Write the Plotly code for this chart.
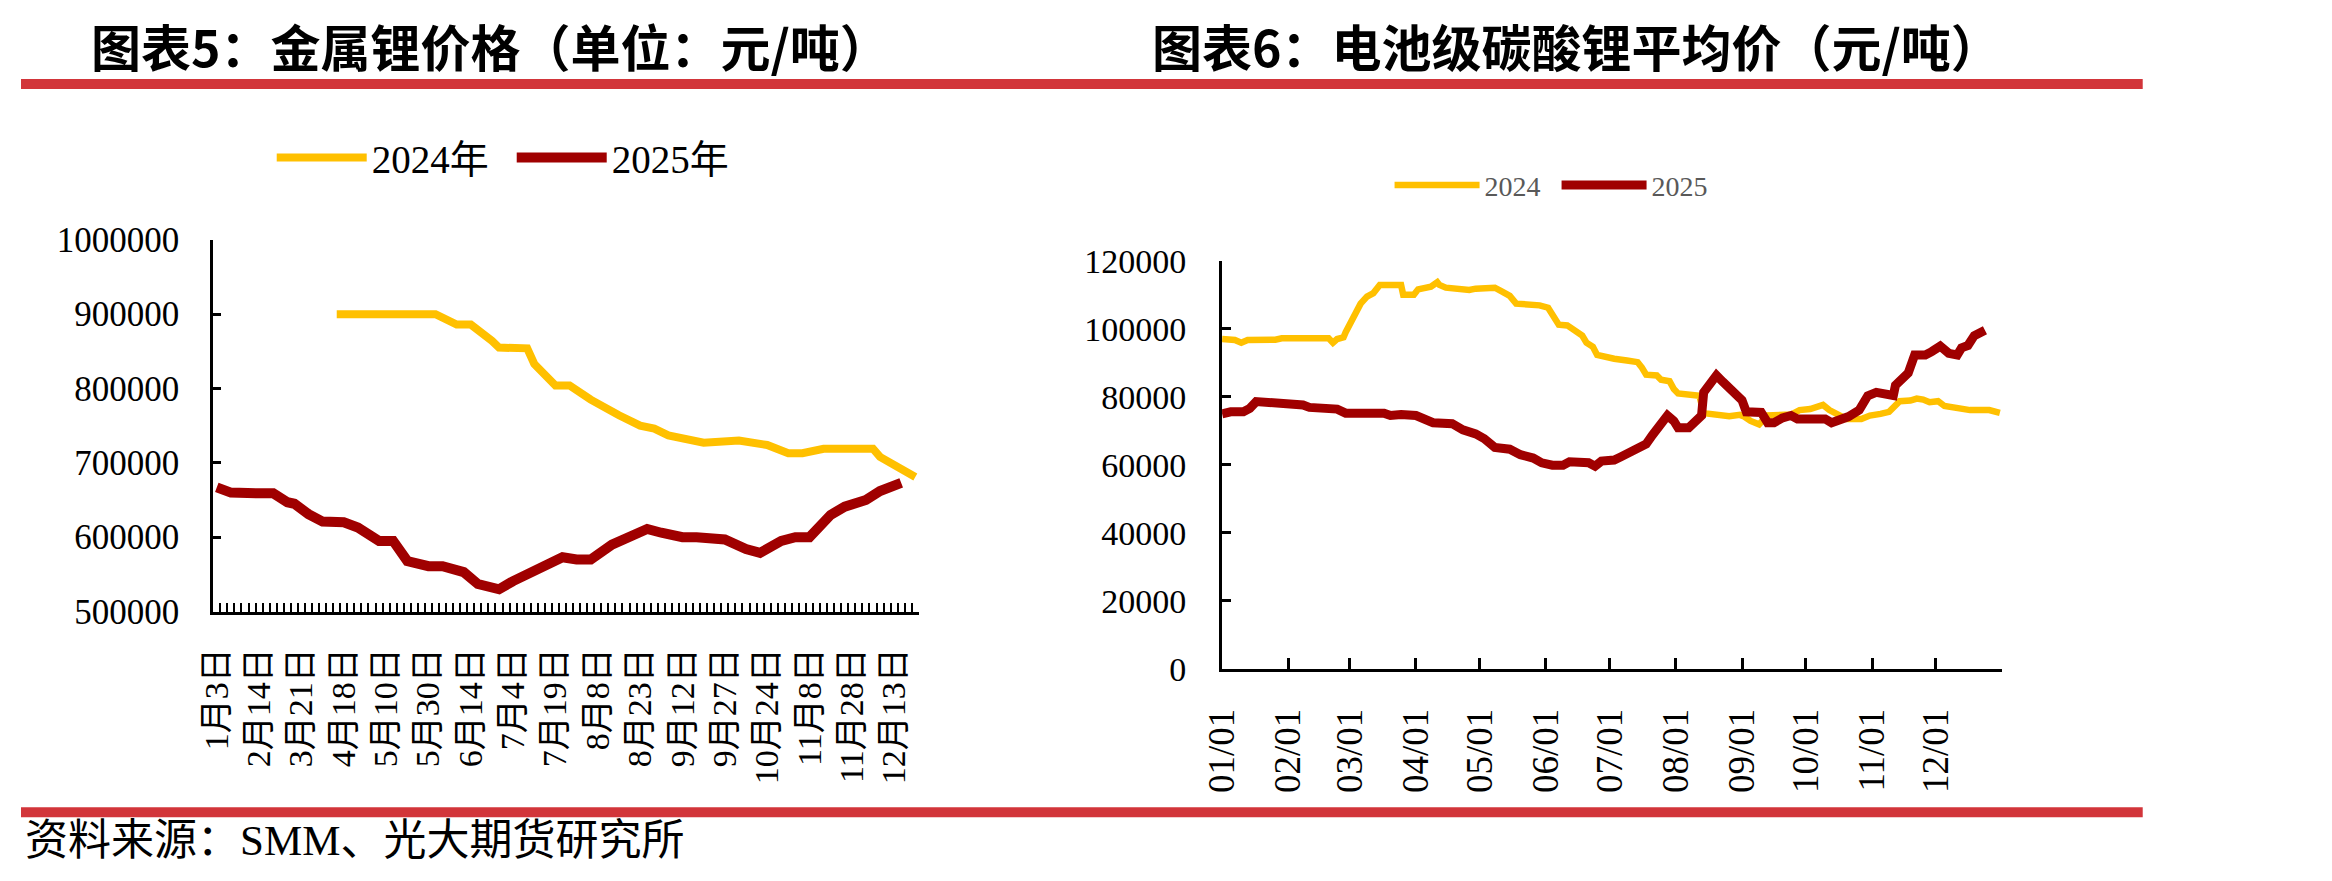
import plotly.graph_objects as go

# ---------------- Chart 5: 金属锂价格（单位：元/吨） ----------------
categories_5 = [
    "1月3日", "1月10日", "1月17日", "1月24日", "1月31日", "2月7日",
    "2月14日", "2月20日", "2月26日", "3月3日", "3月9日", "3月15日",
    "3月21日", "3月26日", "3月30日", "4月4日", "4月9日", "4月13日",
    "4月18日", "4月22日", "4月25日", "4月29日", "5月3日", "5月7日",
    "5月10日", "5月13日", "5月17日", "5月20日", "5月23日", "5月27日",
    "5月30日", "6月2日", "6月4日", "6月6日", "6月10日", "6月12日",
    "6月14日", "6月17日", "6月20日", "6月24日", "6月27日", "7月1日",
    "7月4日", "7月7日", "7月9日", "7月11日", "7月15日", "7月17日",
    "7月19日", "7月22日", "7月25日", "7月29日", "8月1日", "8月5日",
    "8月8日", "8月11日", "8月13日", "8月15日", "8月19日", "8月21日",
    "8月23日", "8月26日", "8月29日", "9月2日", "9月5日", "9月9日",
    "9月12日", "9月15日", "9月17日", "9月19日", "9月23日", "9月25日",
    "9月27日", "9月30日", "10月10日", "10月14日", "10月17日", "10月21日",
    "10月24日", "10月27日", "10月29日", "10月31日", "11月4日", "11月6日",
    "11月8日", "11月11日", "11月14日", "11月18日", "11月21日", "11月25日",
    "11月28日", "12月1日", "12月3日", "12月5日", "12月9日", "12月11日",
    "12月13日", "12月16日", "12月18日", "12月20日",
]
tick_labels_5 = [
    "1月3日", "2月14日", "3月21日", "4月18日", "5月10日", "5月30日",
    "6月14日", "7月4日", "7月19日", "8月8日", "8月23日", "9月12日",
    "9月27日", "10月24日", "11月8日", "11月28日", "12月13日",
]
li_2024_dates = [
    "4月13日", "6月2日", "6月10日", "6月14日", "6月24日", "6月27日",
    "7月9日", "7月11日", "7月19日", "7月25日", "8月5日", "8月11日",
    "8月15日", "8月23日", "8月29日", "9月5日", "9月15日", "9月19日",
    "10月10日", "10月17日", "10月24日", "10月31日", "11月6日", "11月14日",
    "12月5日", "12月9日", "12月16日", "12月20日",
]
li_2024_vals = [
    900000, 900000, 886000, 886000, 864000, 855000,
    854000, 833000, 804000, 804000, 785000, 774000,
    764000, 750000, 746000, 737000, 730000, 727000,
    730000, 728000, 724000, 713000, 713000, 719000,
    719000, 708000, 690000, 681000,
]
li_2025_dates = [
    "1月3日", "1月17日", "2月14日", "2月26日", "3月9日", "3月15日",
    "3月26日", "4月4日", "4月18日", "4月25日", "5月7日", "5月13日",
    "5月20日", "5月30日", "6月4日", "6月12日", "6月17日", "6月27日",
    "7月4日", "7月9日", "7月15日", "7月22日", "7月29日", "8月5日",
    "8月13日", "8月19日", "8月26日", "9月2日", "9月12日", "9月17日",
    "9月23日", "9月27日", "10月14日", "10月21日", "10月29日", "11月4日",
    "11月8日", "11月18日", "11月25日", "12月3日", "12月9日", "12月16日",
]
li_2025_vals = [
    667000, 660000, 659000, 659000, 647000, 645000,
    631000, 621000, 620000, 613000, 595000, 595000,
    568000, 561000, 561000, 553000, 537000, 530000,
    541000, 550000, 559000, 573000, 570000, 570000,
    590000, 599000, 611000, 606000, 600000, 600000,
    597000, 597000, 584000, 579000, 595000, 600000,
    600000, 630000, 641000, 650000, 662000, 673000,
]

# ---------------- Chart 6: 电池级碳酸锂平均价（元/吨） ----------------
month_ticks_6 = ["01-01", "02-01", "03-01", "04-01", "05-01", "06-01",
                 "07-01", "08-01", "09-01", "10-01", "11-01", "12-01"]
tick_text_6 = ["01/01", "02/01", "03/01", "04/01", "05/01", "06/01",
               "07/01", "08/01", "09/01", "10/01", "11/01", "12/01"]
lc_2024_dates = [
    "01-01", "01-07", "01-10", "01-13", "01-26", "01-29", "02-20", "02-22",
    "02-24", "02-27", "02-28", "03-03", "03-06", "03-09", "03-12", "03-15",
    "03-25", "03-26", "03-31", "04-02", "04-08", "04-11", "04-12", "04-15",
    "04-23", "04-26", "04-29", "05-08", "05-11", "05-15", "05-18", "05-23",
    "05-29", "06-02", "06-05", "06-07", "06-11", "06-14", "06-18", "06-20",
    "06-23", "06-25", "06-30", "07-03", "07-09", "07-14", "07-16", "07-18",
    "07-23", "07-25", "07-29", "07-31", "08-02", "08-08", "08-12", "08-14",
    "08-19", "08-23", "08-26", "08-31", "09-02", "09-05", "09-09", "09-13",
    "09-19", "09-24", "09-28", "10-03", "10-09", "10-12", "10-17", "10-20",
    "10-27", "10-31", "11-05", "11-09", "11-14", "11-19", "11-22", "11-25",
    "11-28", "12-02", "12-05", "12-11", "12-17", "12-26", "12-31",
]
lc_2024_vals = [
    97000, 96700, 95900, 96700, 96800, 97200, 97200, 95900,
    97000, 97500, 99000, 104300, 107400, 109500, 110500, 112900,
    112900, 110000, 110000, 111600, 112400, 113700, 112900, 112100,
    111800, 111400, 111800, 112100, 111100, 109700, 107400, 107200,
    106900, 106200, 103200, 101200, 101000, 99600, 98000, 95900,
    94700, 92300, 91400, 91200, 90700, 90200, 88600, 86500,
    86300, 85000, 84600, 82300, 81000, 80800, 80300, 75200,
    75000, 74500, 74300, 74700, 74200, 72900, 71900, 74500,
    74800, 74800, 76100, 76400, 77600, 76100, 74500, 73500,
    73500, 74500, 75000, 75600, 78700, 78900, 79500, 79200,
    78400, 78700, 77300, 76600, 76100, 76100, 75300,
]
lc_2025_dates = [
    "01-01", "01-05", "01-11", "01-14", "01-17", "01-23", "01-29", "02-02",
    "02-08", "02-11", "02-16", "02-24", "02-28", "03-06", "03-09", "03-17",
    "03-20", "03-25", "04-01", "04-04", "04-09", "04-18", "04-23", "04-29",
    "05-03", "05-08", "05-15", "05-20", "05-26", "05-30", "06-04", "06-09",
    "06-12", "06-21", "06-24", "06-27", "07-03", "07-06", "07-10", "07-14",
    "07-18", "07-21", "07-24", "07-28", "07-31", "08-02", "08-07", "08-10",
    "08-13", "08-14", "08-17", "08-20", "08-23", "08-26", "08-29", "09-01",
    "09-03", "09-07", "09-10", "09-13", "09-16", "09-20", "09-24", "09-27",
    "10-06", "10-10", "10-13", "10-17", "10-21", "10-26", "10-30", "11-03",
    "11-11", "11-12", "11-15", "11-18", "11-21", "11-26", "11-29", "12-03",
    "12-07", "12-11", "12-13", "12-16", "12-19", "12-22", "12-24",
]
lc_2025_vals = [
    75000, 75600, 75600, 76600, 78600, 78500, 78400, 78000,
    77600, 76900, 76600, 76400, 75200, 75000, 75500, 75200,
    74500, 74800, 74500, 73800, 72400, 72100, 70300, 69100,
    67700, 65100, 64600, 63000, 62000, 60600, 59900, 59900,
    60900, 60600, 59600, 61100, 61400, 62300, 63500, 64600,
    66100, 68800, 70900, 74500, 72900, 70900, 70900, 72900,
    74500, 81300, 83900, 86300, 84400, 82300, 80300, 79000,
    75600, 75300, 75400, 72400, 72400, 73800, 74500, 73500,
    73500, 73500, 72400, 73000, 74200, 76100, 80300, 81300,
    80400, 83400, 85000, 87000, 92300, 92300, 93300, 94900,
    92800, 92300, 94400, 95100, 98000, 99100, 99600,
]

YELLOW = "#FFC000"
DARKRED = "#A00000"
RULE = "#D2353A"
SERIF = "Liberation Serif, Noto Sans CJK SC"
CJK = "Noto Sans CJK SC"

W, H = 2332, 881
px = lambda v: v / W
py = lambda v: 1 - v / H

AXIS_YEAR = "2024-"

fig = go.Figure()

# helper traces so both category axes know every category
fig.add_trace(go.Scatter(x=categories_5, y=[None] * len(categories_5), mode="lines",
                         xaxis="x", yaxis="y", showlegend=False, hoverinfo="skip"))
fig.add_trace(go.Scatter(x=categories_5, y=[None] * len(categories_5), mode="lines",
                         xaxis="x3", yaxis="y", showlegend=False, hoverinfo="skip"))

fig.add_trace(go.Scatter(x=li_2024_dates, y=li_2024_vals, mode="lines", name="2024年",
                         line=dict(color=YELLOW, width=8), xaxis="x", yaxis="y",
                         legend="legend"))
fig.add_trace(go.Scatter(x=li_2025_dates, y=li_2025_vals, mode="lines", name="2025年",
                         line=dict(color=DARKRED, width=10), xaxis="x", yaxis="y",
                         legend="legend"))

fig.add_trace(go.Scatter(x=[AXIS_YEAR + d for d in lc_2024_dates], y=lc_2024_vals,
                         mode="lines", name="2024", line=dict(color=YELLOW, width=6.5),
                         xaxis="x2", yaxis="y2", legend="legend2"))
fig.add_trace(go.Scatter(x=[AXIS_YEAR + d for d in lc_2025_dates], y=lc_2025_vals,
                         mode="lines", name="2025", line=dict(color=DARKRED, width=9),
                         xaxis="x2", yaxis="y2", legend="legend2"))

axis_common = dict(showline=True, linecolor="black", linewidth=3, showgrid=False,
                   zeroline=False, tickcolor="black")

fig.update_layout(
    width=W, height=H, autosize=False,
    margin=dict(l=0, r=0, t=0, b=0, pad=0),
    paper_bgcolor="white", plot_bgcolor="white",
    xaxis=dict(**axis_common, domain=[px(194), px(906)], anchor="y", type="category",
               categoryorder="array", categoryarray=categories_5, range=[-0.5, 99.5],
               tickmode="array", tickvals=tick_labels_5, ticktext=tick_labels_5,
               ticks="", tickangle=-90, ticklabelstandoff=20,
               tickfont=dict(family=SERIF, size=34, color="black")),
    xaxis3=dict(overlaying="x", anchor="y", type="category", categoryorder="array",
                categoryarray=categories_5, range=[-0.5, 99.5], tickmode="linear",
                tick0=0, dtick=1, tickson="boundaries", ticks="inside", ticklen=9,
                tickwidth=2, tickcolor="black", showticklabels=False, showline=False,
                showgrid=False, zeroline=False),
    yaxis=dict(**axis_common, domain=[py(620), py(231)], anchor="x",
               range=[500000, 1000000], tickmode="linear", tick0=0, dtick=100000,
               tickformat="d", ticks="inside", ticklen=8, tickwidth=2.5,
               ticklabelstandoff=24,
               tickfont=dict(family=SERIF, size=35, color="black")),
    xaxis2=dict(**axis_common, domain=[px(1212), px(1999)], anchor="y2", type="date",
                range=[AXIS_YEAR + "01-01", "2025-01-01"], tickmode="array",
                tickvals=[AXIS_YEAR + m for m in month_ticks_6] + ["2025-01-01"],
                ticktext=tick_text_6 + [""], ticks="inside", ticklen=11, tickwidth=2.5,
                tickangle=-90, ticklabelstandoff=22,
                tickfont=dict(family=SERIF, size=37, color="black")),
    yaxis2=dict(**axis_common, domain=[py(680), py(253)], anchor="x2",
                range=[0, 120000], tickmode="linear", tick0=0, dtick=20000,
                tickformat="d", ticks="inside", ticklen=9, tickwidth=2.5,
                ticklabelstandoff=26,
                tickfont=dict(family=SERIF, size=34, color="black")),
    legend=dict(orientation="h", x=px(253), y=py(145), xanchor="left", yanchor="middle",
                itemwidth=90, entrywidth=135, bgcolor="rgba(0,0,0,0)", borderwidth=0,
                font=dict(family=SERIF, size=39, color="black"), traceorder="normal"),
    legend2=dict(orientation="h", x=px(1381), y=py(174), xanchor="left", yanchor="middle",
                 itemwidth=85, entrywidth=67, bgcolor="rgba(0,0,0,0)", borderwidth=0,
                 font=dict(family=SERIF, size=28, color="#595959"), traceorder="normal"),
    shapes=[
        dict(type="line", xref="paper", yref="paper", x0=0, x1=px(2141),
             y0=py(68), y1=py(68), line=dict(color=RULE, width=10)),
        dict(type="line", xref="paper", yref="paper", x0=0, x1=px(2141),
             y0=py(830), y1=py(830), line=dict(color=RULE, width=10)),
    ],
    annotations=[
        dict(text="<b>图表5：金属锂价格（单位：元/吨）</b>", xref="paper", yref="paper",
             x=px(69), y=py(27), xanchor="left", yanchor="middle", showarrow=False,
             font=dict(family=CJK, size=50, color="black")),
        dict(text="<b>图表6：电池级碳酸锂平均价（元/吨）</b>", xref="paper", yref="paper",
             x=px(1139), y=py(27), xanchor="left", yanchor="middle", showarrow=False,
             font=dict(family=CJK, size=50, color="black")),
        dict(text="资料来源：SMM、光大期货研究所", xref="paper", yref="paper",
             x=px(2), y=py(860), xanchor="left", yanchor="middle", showarrow=False,
             font=dict(family=SERIF, size=43, color="black")),
    ],
)

fig.write_html("out.html")
